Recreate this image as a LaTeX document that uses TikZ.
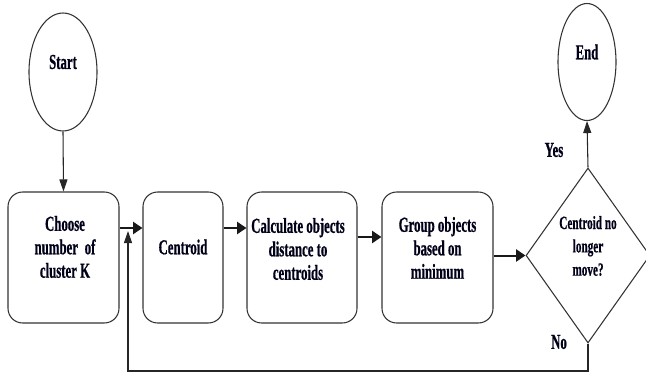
\documentclass[tikz,border=0pt]{standalone}
\usepackage{fontspec}
\setmainfont{Liberation Serif}[FakeStretch=0.6,BoldFont={Liberation Serif Bold},BoldFeatures={FakeStretch=0.6,FakeBold=0.6}]
\usetikzlibrary{shapes.geometric,arrows.meta}
\begin{document}
\begin{tikzpicture}[x=0.75pt,y=-0.75pt,
  shp/.style={draw=black!80,line width=0.8pt},
  box/.style={shp,rectangle,rounded corners=11pt,minimum height=98.25pt},
  oval/.style={shp,ellipse},
  txt/.style={font=\bfseries\fontsize{16}{17.6}\selectfont,align=center,inner sep=0pt,text=black!90!blue},
  stxt/.style={font=\bfseries\fontsize{14}{17.5}\selectfont,align=center,inner sep=0pt,text=black!90!blue},
  arr/.style={-{Triangle[length=9pt,width=6pt]},line width=0.8pt,black!85},
  harr/.style={-{Triangle[length=7pt,width=9pt]},line width=1.5pt,black!90}]
\useasboundingbox (0,0) rectangle (646,374);
% shapes
\node[oval,minimum width=51pt,minimum height=88.5pt] (start) at (63,72) {};
\node[oval,minimum width=43.5pt,minimum height=87.75pt] (end) at (587,62) {};
\node[box,minimum width=83.25pt] (b1) at (63.5,257.5) {};
\node[box,minimum width=60pt] (b2) at (183,257.5) {};
\node[box,minimum width=82.5pt] (b3) at (302,257.5) {};
\node[box,minimum width=83.25pt] (b4) at (437.5,257.5) {};
\node[shp,diamond,inner sep=0pt,minimum width=93pt,minimum height=131.25pt] (dia) at (588,255.5) {};
% texts
\node[txt] (tstart) at (63,62) {Start};
\node[txt] (tend) at (587,52) {End};
\node[txt] (t1) at (65,247) {Choose\\number\, of\\cluster K};
\node[txt] (t2) at (183,247) {Centroid};
\node[txt] (t3) at (298,249) {Calculate objects\\distance to\\centroids};
\node[txt] (t4) at (437.5,248) {Group objects\\based on\\minimum};
\node[stxt] (td) at (588,246) {Centroid no\\longer\\move?};
\node[txt] (yes) at (554,150) {Yes};
\node[txt] (no) at (559,342) {No};
% helper coordinates
\coordinate (fbc) at (128,371);
\coordinate (fbtip) at (128,231);
% connectors
\draw[arr] (start.south) -- (b1.north);
\draw[harr] (b1.east |- 0,228) -- (b2.west |- 0,228);
\draw[harr] (b2.east |- 0,228) -- (b3.west |- 0,228);
\draw[harr] (b3.east |- 0,237) -- (b4.west |- 0,237);
\draw[harr] (b4.east |- dia.west) -- (dia.west);
\draw[arr] (dia.north) -- (end.south);
\draw[arr] (dia.south) |- (fbc) -- (fbtip);
\end{tikzpicture}
\end{document}
